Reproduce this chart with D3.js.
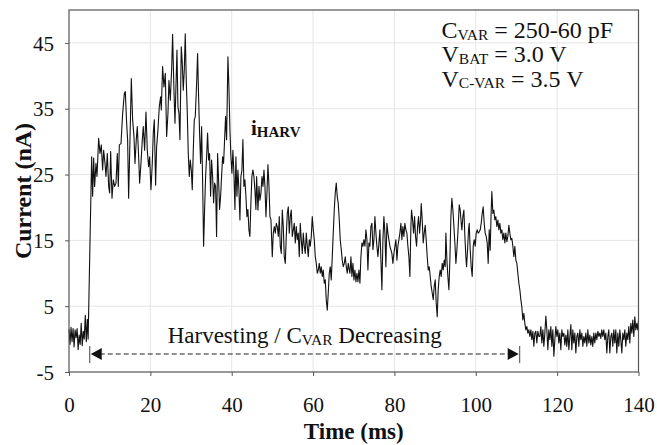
<!DOCTYPE html>
<html>
<head>
<meta charset="utf-8">
<script src="https://cdn.jsdelivr.net/npm/d3@7"></script>
<style>
  html, body { margin: 0; padding: 0; background: #fff; }
  svg { display: block; font-family: "Liberation Serif", "Times New Roman", serif; }
</style>
</head>
<body>
<div id="chart"></div>
<script>
// axis ticks
const xTicks = [0, 20, 40, 60, 80, 100, 120, 140];
const yTicks = [-5, 5, 15, 25, 35, 45];

// harvesting window (ms)
const harvestSpan = [5.1, 110.8];

// measured current trace: [time (ms), current (nA)]
const trace = [
  [0, 1.5], [0.25, -0.8], [0.5, 1.8], [0.75, -0.4], [1.0, 1.6], [1.25, -1.2], [1.5, 1.4], [1.75, 0.2],
  [2.0, 1.6], [2.25, -1.6], [2.5, 0.6], [2.75, -0.8], [3.0, 2.4], [3.25, -1.0], [3.5, 1.2], [3.75, 0.0],
  [4.0, 3.6], [4.25, -0.4], [4.5, 3.0], [4.7, 0.0],
  [5.57, 27.7], [5.81, 21.7], [6.06, 27.5], [6.3, 23.2], [6.63, 26.7], [6.88, 24.7], [7.29, 30.5], [7.62, 28.2],
  [7.94, 29.5], [8.27, 25.7], [8.52, 28.7], [8.85, 26.7], [9.09, 24.7], [9.42, 28.2], [9.75, 23.2], [9.99, 22.2],
  [10.24, 28.5], [10.57, 21.4], [10.89, 24.2], [11.22, 23.2], [11.55, 23.7], [11.88, 28.2], [12.12, 23.2], [12.37, 29.5],
  [12.78, 29.7], [13.19, 34.3], [13.6, 37.3], [13.84, 37.6], [14.17, 32.8], [14.41, 30.3], [14.66, 21.4], [14.99, 30.3],
  [15.32, 39.6], [15.64, 33.3], [15.97, 30.8], [16.22, 26.7], [16.54, 30.3], [16.79, 32.3], [17.12, 27.7], [17.36, 23.7],
  [17.69, 26.7], [18.02, 30.3], [18.26, 32.3], [18.59, 28.7], [18.92, 34.5], [19.25, 28.7], [19.57, 26.2], [19.82, 27.7],
  [20.15, 22.7], [20.47, 26.7], [20.72, 31.3], [20.97, 33.3], [21.29, 23.4], [21.54, 29.2], [21.87, 31.8], [22.19, 35.3],
  [22.52, 36.8], [22.69, 34.8], [23.01, 41.4], [23.34, 38.3], [23.67, 40.4], [24.0, 30.8], [24.33, 34.3], [24.57, 39.3],
  [24.9, 36.3], [25.23, 40.9], [25.47, 46.3], [25.8, 37.8], [26.05, 32.8], [26.29, 38.3], [26.54, 43.9], [26.78, 35.3],
  [27.03, 34.3], [27.27, 30.3], [27.6, 44.4], [27.85, 41.9], [28.09, 37.8], [28.34, 40.9], [28.58, 46.4], [28.83, 39.3],
  [29.08, 34.3], [29.32, 28.2], [29.57, 24.7], [29.81, 27.2], [30.06, 25.7], [30.3, 22.7], [30.55, 28.7], [30.8, 33.3],
  [31.04, 33.8], [31.37, 38.8], [31.61, 43.4], [31.86, 36.8], [32.1, 31.3], [32.35, 26.7], [32.6, 32.3], [32.84, 24.2],
  [33.09, 14.1], [33.33, 19.6], [33.58, 24.7], [33.83, 27.7], [34.07, 31.3], [34.32, 27.2], [34.56, 28.2], [34.81, 21.7],
  [35.05, 27.2], [35.3, 24.7], [35.55, 20.7], [35.79, 23.7], [36.04, 23.2], [36.28, 15.6], [36.53, 28.2], [36.77, 24.2],
  [37.02, 19.7], [37.27, 21.7], [37.51, 24.7], [37.76, 27.7], [38.0, 26.7], [38.25, 30.3], [38.49, 33.8], [38.74, 30.3],
  [39.07, 42.9], [39.31, 38.3], [39.56, 31.8], [39.8, 27.7], [40.05, 25.2], [40.29, 28.7], [40.54, 25.2], [40.79, 19.7],
  [41.03, 27.7], [41.28, 21.7], [41.52, 25.7], [41.77, 22.7], [42.02, 18.1], [42.26, 24.7], [42.51, 25.7], [42.75, 30.3],
  [43.0, 23.2], [43.24, 24.2], [43.49, 21.7], [43.74, 18.6], [43.98, 19.7], [44.23, 16.6], [44.47, 15.6], [44.72, 20.7],
  [44.96, 24.7], [45.21, 25.7], [45.46, 24.7], [45.7, 22.7], [45.95, 19.7],
  [46.12, 24.7], [46.45, 19.6], [46.7, 23.2], [46.94, 21.1], [47.19, 22.2], [47.44, 24.7], [47.68, 23.2], [47.93, 25.7],
  [48.17, 23.2], [48.42, 18.6], [48.66, 22.2], [48.91, 26.5], [49.16, 23.2], [49.4, 18.6], [49.65, 18.1], [49.97, 12.5],
  [50.22, 16.1], [50.47, 17.1], [50.71, 16.1], [50.96, 17.6], [51.2, 17.1], [51.45, 15.6], [51.69, 18.6], [51.94, 14.1],
  [52.19, 13.0], [52.43, 19.6], [52.68, 17.1], [52.92, 12.5], [53.17, 11.5], [53.41, 15.6], [53.66, 19.1], [53.91, 20.1],
  [54.15, 16.1], [54.4, 18.6], [54.64, 19.6], [54.89, 15.6], [55.14, 16.6], [55.38, 17.6], [55.63, 14.6], [55.87, 17.1],
  [56.12, 15.1], [56.36, 16.1], [56.61, 12.5], [56.85, 17.6], [57.1, 15.1], [57.35, 13.0], [57.59, 16.1], [57.84, 14.1],
  [58.08, 13.0], [58.33, 16.1], [58.58, 14.1], [58.82, 12.5], [59.07, 15.1], [59.31, 14.1], [59.56, 15.6], [59.8, 18.6],
  [60.05, 16.6], [60.3, 15.1], [60.54, 12.5], [60.79, 11.5], [61.03, 10.0], [61.28, 10.5], [61.52, 11.5], [61.77, 10.0],
  [62.01, 11.0], [62.26, 9.5], [62.5, 10.5], [62.75, 8.5], [63.0, 9.0], [63.24, 6.0], [63.49, 4.4], [63.73, 7.0],
  [63.98, 10.0], [64.23, 11.0], [64.47, 9.0], [64.72, 12.5], [64.96, 16.1], [65.21, 19.6], [65.45, 22.2], [65.7, 23.7],
  [65.95, 21.6], [66.19, 20.6], [66.44, 18.1], [66.68, 15.1], [66.93, 13.6], [67.17, 12.0], [67.42, 11.0], [67.67, 11.5],
  [67.91, 12.5], [68.16, 11.0], [68.4, 10.0], [68.65, 11.5], [68.89, 10.5],
  [69.06, 10.0], [69.31, 12.5], [69.55, 9.5], [69.8, 11.5], [70.04, 9.0], [70.29, 10.5], [70.53, 8.7], [70.78, 10.0],
  [71.03, 8.7], [71.27, 10.5], [71.52, 8.5], [71.76, 12.5], [72.01, 14.6], [72.25, 14.1], [72.5, 15.1], [72.75, 14.1],
  [72.99, 16.6], [73.24, 15.1], [73.48, 10.5], [73.73, 14.6], [73.97, 14.1], [74.22, 17.1], [74.47, 17.6], [74.71, 13.6],
  [74.96, 15.1], [75.2, 18.6], [75.45, 16.1], [75.69, 14.1], [75.94, 12.5], [76.19, 14.6], [76.43, 16.6], [76.68, 12.0],
  [76.92, 7.5], [77.17, 15.1], [77.41, 18.6], [77.66, 16.1], [77.9, 11.0], [78.15, 17.6], [78.4, 16.1], [78.64, 15.1],
  [78.89, 14.1], [79.13, 13.6], [79.38, 13.0], [79.62, 11.5], [79.87, 13.0], [80.12, 14.1], [80.36, 15.1], [80.61, 12.0],
  [80.85, 14.1], [81.1, 15.1], [81.34, 16.1], [81.59, 17.6], [81.84, 15.1], [82.08, 17.1], [82.33, 15.6], [82.57, 17.6],
  [82.82, 16.6], [83.06, 16.1], [83.31, 14.1], [83.56, 12.5], [83.8, 9.5], [84.05, 17.1], [84.21, 19.6], [84.46, 18.1],
  [84.7, 16.1], [84.95, 18.6], [85.19, 15.6], [85.44, 14.1], [85.69, 17.1], [85.93, 18.6], [86.18, 16.1], [86.42, 18.1],
  [86.59, 20.6], [86.83, 18.1], [87.08, 14.6], [87.32, 16.1], [87.57, 17.3], [87.81, 15.1], [88.06, 12.5], [88.31, 10.5],
  [88.55, 11.0], [88.8, 9.5], [89.04, 8.0], [89.29, 7.0], [89.54, 6.0], [89.78, 8.0], [90.03, 9.0], [90.27, 5.5],
  [90.52, 3.4], [90.76, 7.5], [91.01, 9.5], [91.25, 10.5], [91.5, 9.5], [91.75, 11.5], [91.99, 10.5], [92.24, 12.0],
  [92.48, 11.0],
  [92.65, 16.1], [92.9, 12.0], [93.14, 9.5], [93.39, 7.5], [93.63, 12.0], [93.88, 18.6], [94.12, 21.4], [94.37, 19.6],
  [94.62, 17.1], [94.86, 14.6], [95.11, 11.5], [95.35, 13.5], [95.6, 16.1], [95.93, 20.4], [96.17, 19.6], [96.42, 17.6],
  [96.58, 16.6], [96.83, 18.6], [97.07, 19.6], [97.32, 15.6], [97.56, 12.5], [97.73, 11.0], [97.97, 13.5], [98.22, 16.6],
  [98.38, 17.6], [98.63, 13.5], [98.87, 11.0], [99.12, 9.5], [99.37, 14.1], [99.61, 15.1], [99.86, 14.1], [100.1, 16.1],
  [100.35, 16.6], [100.59, 16.1], [100.84, 16.3], [101.09, 16.6], [101.33, 17.6], [101.58, 19.1], [101.82, 20.1], [102.07, 17.6],
  [102.31, 16.1], [102.56, 15.6], [102.81, 14.6], [103.05, 11.5], [103.3, 16.6], [103.54, 13.5], [103.79, 19.6], [103.95, 22.4],
  [104.2, 19.1], [104.44, 19.6], [104.69, 18.1], [104.93, 18.6], [105.18, 17.1], [105.43, 18.1], [105.67, 16.6], [105.92, 17.6],
  [106.16, 16.1], [106.41, 16.6], [106.65, 15.1], [106.9, 16.1], [107.15, 14.6], [107.39, 16.1], [107.64, 14.8], [107.88, 15.6],
  [108.13, 17.3], [108.37, 16.1], [108.62, 15.1], [108.87, 15.3], [109.11, 14.1], [109.36, 12.5], [109.6, 14.1], [109.85, 12.0],
  [110.1, 11.5], [110.34, 10.0], [110.59, 8.5], [110.83, 7.5], [111.08, 6.0], [111.32, 4.9], [111.57, 2.9], [111.82, 3.9],
  [112.06, 2.4], [112.31, 1.4], [112.55, 1.9], [112.8, 0.9], [113.04, 1.4], [113.29, 0.4], [113.53, 1.4], [113.78, -0.1],
  [114.03, 1.2], [114.27, -1.1], [114.52, 0.9], [114.76, 1.2], [115.01, -0.6], [115.25, 1.2], [115.5, 0.4],
  [115.75, 0.4], [116.0, 1.9], [116.24, -0.6], [116.49, 1.4], [116.73, -1.1], [116.98, 0.9], [117.22, 3.5], [117.47, 1.4],
  [117.72, -1.6], [117.96, 1.4], [118.21, -0.1], [118.45, 1.9], [118.7, -1.1], [118.94, 1.4], [119.19, -2.6], [119.44, -0.1],
  [119.68, 1.9], [119.93, 0.4], [120.17, 1.4], [120.42, -0.6], [120.66, 0.9], [120.91, -1.6], [121.16, 1.4], [121.4, 0.4],
  [121.65, 0.9], [121.89, -0.9], [122.14, 0.6], [122.38, -1.1], [122.63, 1.4], [122.88, -1.6], [123.12, 0.4], [123.37, 2.2],
  [123.61, -1.6], [123.86, 1.4], [124.1, -0.6], [124.35, 0.9], [124.6, -2.1], [124.84, 0.4], [125.09, 0.9], [125.33, -1.1],
  [125.58, 1.4], [125.82, -0.1], [126.07, 0.9], [126.32, -1.1], [126.56, 0.4], [126.81, -0.6], [127.05, 0.9], [127.3, -1.1],
  [127.54, 1.4], [127.79, -0.6], [128.04, 0.6], [128.28, -0.9], [128.53, 0.4], [128.77, -1.1], [129.02, 0.9], [129.26, -0.6],
  [129.51, 0.9], [129.76, -0.1], [130.0, 1.2], [130.25, 0.4], [130.49, 0.9], [130.74, 0.1], [130.98, 1.4], [131.23, 0.4],
  [131.48, 1.4], [131.72, -0.1], [131.97, 0.9], [132.21, -2.1], [132.46, 0.4], [132.7, 1.4], [132.95, -2.1], [133.2, 0.4],
  [133.44, 0.9], [133.69, -1.1], [133.93, 1.4], [134.18, -0.6], [134.42, 1.4], [134.67, -2.1], [134.92, 0.9], [135.16, -1.1],
  [135.41, 1.4], [135.65, -0.1], [135.9, -2.1], [136.14, 0.9], [136.39, -0.1], [136.64, 1.4], [136.88, -1.1], [137.13, 0.9],
  [137.37, -0.1], [137.62, 1.9], [137.86, -0.6], [138.11, 2.4], [138.36, 0.9], [138.6, 2.9], [138.85, 0.4], [139.09, 3.4],
  [139.34, 1.4], [139.59, 2.4], [139.83, 1.4], [140, 2.9]
];

const width = 657, height = 445;
const margin = { top: 10, right: 18.5, bottom: 73, left: 69 };

const svg = d3.select('#chart').append('svg')
    .attr('width', width)
    .attr('height', height);

svg.append('rect').attr('width', width).attr('height', height).attr('fill', '#fff');

const x = d3.scaleLinear().domain([0, 140]).range([margin.left, width - margin.right]);
const y = d3.scaleLinear().domain([-5, 50]).range([height - margin.bottom, margin.top]);

// gridlines
const grid = svg.append('g').attr('stroke', '#e6e6e6').attr('stroke-width', 1);
grid.selectAll('.gx').data(xTicks.slice(1, -1)).join('line')
    .attr('x1', d => x(d)).attr('x2', d => x(d))
    .attr('y1', y(50)).attr('y2', y(-5));
grid.selectAll('.gy').data(yTicks.slice(1)).join('line')
    .attr('x1', x(0)).attr('x2', x(140))
    .attr('y1', d => y(d)).attr('y2', d => y(d));

// the trace
const line = d3.line().x(d => x(d[0])).y(d => y(d[1]));
svg.append('path')
    .datum(trace)
    .attr('d', line)
    .attr('fill', 'none')
    .attr('stroke', '#111')
    .attr('stroke-width', 1.1)
    .attr('stroke-linejoin', 'round');

// frame
svg.append('rect')
    .attr('x', x(0)).attr('y', y(50))
    .attr('width', x(140) - x(0)).attr('height', y(-5) - y(50))
    .attr('fill', 'none')
    .attr('stroke', '#555')
    .attr('stroke-width', 1.2);

// axes
const xAxis = svg.append('g')
    .attr('transform', `translate(0,${y(-5)})`)
    .call(d3.axisBottom(x).tickValues(xTicks).tickSize(4).tickFormat(d => String(d)));
xAxis.select('.domain').remove();
xAxis.selectAll('.tick line').attr('stroke', '#555');
xAxis.selectAll('.tick text')
    .attr('y', 40).attr('dy', 0)
    .attr('font-size', 21).attr('font-family', '"Liberation Serif", serif').attr('fill', '#111');

const yAxis = svg.append('g')
    .attr('transform', `translate(${x(0)},0)`)
    .call(d3.axisLeft(y).tickValues(yTicks).tickSize(4).tickFormat(d => String(d)));
yAxis.select('.domain').remove();
yAxis.selectAll('.tick line').attr('stroke', '#555');
yAxis.selectAll('.tick text')
    .attr('x', -15).attr('dy', '0.34em')
    .attr('font-size', 21).attr('font-family', '"Liberation Serif", serif').attr('fill', '#111');

// axis titles
svg.append('text')
    .attr('transform', `translate(31,${(y(50) + y(-5)) / 2}) rotate(-90)`)
    .attr('text-anchor', 'middle')
    .attr('font-size', 24).attr('font-weight', 'bold').attr('fill', '#111')
    .text('Current (nA)');

svg.append('text')
    .attr('x', (x(0) + x(140)) / 2).attr('y', 439)
    .attr('text-anchor', 'middle')
    .attr('font-size', 23).attr('font-weight', 'bold').attr('fill', '#111')
    .text('Time (ms)');

// parameter block, top right
const params = [
  ['C', 'VAR', ' = 250-60 pF'],
  ['V', 'BAT', ' = 3.0 V'],
  ['V', 'C-VAR', ' = 3.5 V']
];
params.forEach((p, i) => {
  const t = svg.append('text')
      .attr('x', 441.5).attr('y', 38 + i * 24.3)
      .attr('font-size', 24).attr('fill', '#111')
      .attr('xml:space', 'preserve')
      .style('white-space', 'pre');
  t.append('tspan').text(p[0]);
  t.append('tspan').attr('font-size', 15.5).attr('dy', 1.5).text(p[1]);
  t.append('tspan').attr('dy', -1.5).text(p[2]);
});

// i_HARV label
const iLabel = svg.append('text')
    .attr('x', 251).attr('y', 135)
    .attr('font-weight', 'bold').attr('fill', '#111');
iLabel.append('tspan').attr('font-size', 21).text('i');
iLabel.append('tspan').attr('font-size', 15).attr('dy', 2).text('HARV');

// harvesting arrow
const ay = y(-5) - 18;
const ax0 = x(harvestSpan[0]), ax1 = x(harvestSpan[1]);
const arrow = svg.append('g');
arrow.append('line')
    .attr('x1', ax0 + 10).attr('x2', ax1 - 10)
    .attr('y1', ay).attr('y2', ay)
    .attr('stroke', '#222').attr('stroke-width', 1.1)
    .attr('stroke-dasharray', '5,3');
[ax0, ax1].forEach(px => {
  arrow.append('line')
      .attr('x1', px).attr('x2', px)
      .attr('y1', ay - 8).attr('y2', ay + 9)
      .attr('stroke', '#444').attr('stroke-width', 1);
});
arrow.append('path')
    .attr('d', `M${ax0 + 1},${ay} L${ax0 + 12},${ay - 6} L${ax0 + 12},${ay + 6} Z`)
    .attr('fill', '#111');
arrow.append('path')
    .attr('d', `M${ax1 - 1},${ay} L${ax1 - 12},${ay - 6} L${ax1 - 12},${ay + 6} Z`)
    .attr('fill', '#111');

const hText = svg.append('text')
    .attr('x', (ax0 + ax1) / 2).attr('y', 343)
    .attr('text-anchor', 'middle')
    .attr('font-size', 23).attr('fill', '#111')
    .style('white-space', 'pre');
hText.append('tspan').text('Harvesting / C');
hText.append('tspan').attr('font-size', 15.5).attr('dy', 1.5).text('VAR');
hText.append('tspan').attr('dy', -1.5).text(' Decreasing');
</script>
</body>
</html>
